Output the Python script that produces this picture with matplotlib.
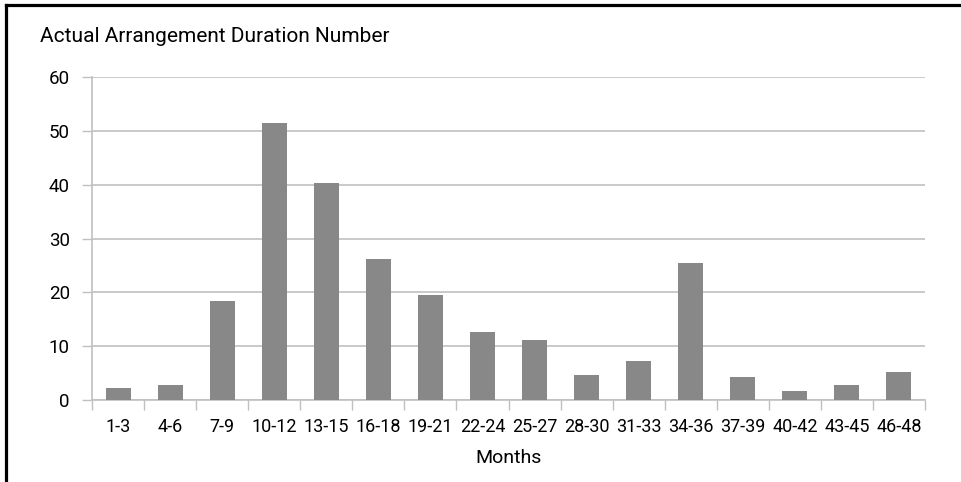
import numpy as np
import matplotlib.pyplot as plt
from matplotlib.lines import Line2D

months = ["1-3", "4-6", "7-9", "10-12", "13-15", "16-18", "19-21", "22-24",
          "25-27", "28-30", "31-33", "34-36", "37-39", "40-42", "43-45", "46-48"]
counts = [2.2, 2.8, 18.4, 51.5, 40.4, 26.1, 19.5, 12.6,
          11.1, 4.6, 7.2, 25.4, 4.3, 1.7, 2.8, 5.2]
yticks = [0, 10, 20, 30, 40, 50, 60]

plt.rcParams['font.family'] = ['Roboto', 'DejaVu Sans']

W, H = 961, 482
fig = plt.figure(figsize=(W / 100, H / 100), dpi=100)
ax = fig.add_axes([92 / W, 1 - 400 / H, (925 - 92) / W, (400 - 77) / H])

x = np.arange(len(months))
ax.bar(x, counts, 0.48, color="#888888", zorder=3)

ax.set_xlim(-0.5, len(months) - 0.5)
ax.set_ylim(0, 60)
ax.set_yticks(yticks)
ax.yaxis.grid(True, color="#c0c0c0", lw=1.2, zorder=0)

ax.set_xticks(x)
ax.set_xticklabels(months)
ax.set_xticks(np.arange(len(months) + 1) - 0.5, minor=True)
ax.tick_params(axis="x", which="major", length=0, pad=13, labelsize=13)
ax.tick_params(axis="x", which="minor", length=7, color="#c0c0c0", width=1)
ax.tick_params(axis="y", length=7, color="#c0c0c0", width=1, pad=9, labelsize=13.5)

for s in ["top", "right"]:
    ax.spines[s].set_visible(False)
for s in ["left", "bottom"]:
    ax.spines[s].set_color("#c0c0c0")
    ax.spines[s].set_linewidth(1.2)

ax.set_xlabel("Months", fontsize=14, labelpad=9)
fig.text(40 / W, 1 - 36 / H, "Actual Arrangement Duration Number",
         fontsize=15, ha="left", va="center")

# frame fragments at top and left edge
fig.add_artist(Line2D([6 / W, 1], [1 - 5 / H, 1 - 5 / H], color="black", lw=2.3,
                      transform=fig.transFigure))
fig.add_artist(Line2D([6 / W, 6 / W], [0, 1 - 5 / H], color="black", lw=2.3,
                      transform=fig.transFigure))

fig.savefig("out.png", dpi=100)
plt.close(fig)
